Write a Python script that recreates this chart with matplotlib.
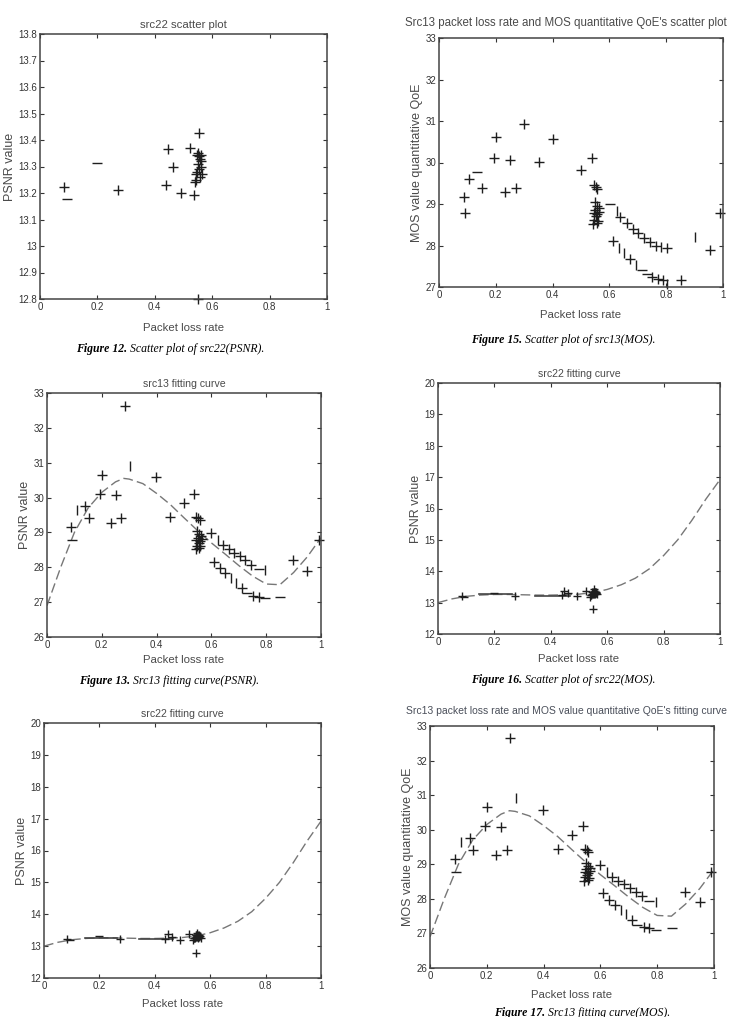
import matplotlib
matplotlib.use('Agg')
import matplotlib.pyplot as plt
import numpy as np

plt.rcParams['font.family'] = ['Liberation Sans', 'DejaVu Sans']

# ---- src22 (PSNR) samples ----
src22_plus_x = [0.084, 0.273, 0.447, 0.462, 0.438, 0.492, 0.524, 0.538, 0.553, 0.549,
                0.550, 0.555, 0.558, 0.562, 0.560, 0.553, 0.548, 0.545, 0.543, 0.556,
                0.565, 0.552, 0.547, 0.560, 0.541]
src22_plus_y = [13.224, 13.212, 13.365, 13.297, 13.229, 13.199, 13.370, 13.191, 13.425, 12.80,
                13.350, 13.340, 13.330, 13.320, 13.300, 13.290, 13.280, 13.270, 13.250, 13.260,
                13.270, 13.310, 13.345, 13.345, 13.240]
src22_dash_x = [0.093, 0.197]
src22_dash_y = [13.179, 13.314]

# src22 fitting curve
src22_fit_x = [0, 0.05, 0.10, 0.15, 0.20, 0.25, 0.30, 0.35, 0.40, 0.45, 0.50,
               0.55, 0.60, 0.65, 0.70, 0.75, 0.80, 0.85, 0.90, 0.95, 1.00]
src22_fit_y = [13.00, 13.12, 13.20, 13.24, 13.26, 13.26, 13.25, 13.24, 13.24, 13.25, 13.27,
               13.32, 13.42, 13.57, 13.78, 14.08, 14.50, 15.00, 15.62, 16.30, 16.92]
# solid stretches visible along the flat part of the src22 fit
src22_solid = [([0.147, 0.262], [13.26, 13.26]), ([0.344, 0.467], [13.22, 13.22])]

# ---- src13 cluster near 0.55 ----
src13_cluster_x = [0.545, 0.552, 0.558, 0.548, 0.556, 0.562, 0.550, 0.545, 0.558, 0.553,
                   0.547, 0.560, 0.555, 0.543, 0.565]
src13_cluster_y = [29.45, 29.40, 29.35, 29.05, 28.95, 28.90, 28.85, 28.78, 28.75, 28.70,
                   28.62, 28.60, 28.55, 28.52, 28.80]

# src13 MOS scatter
mos_plus_x = [0.087, 0.093, 0.107, 0.150, 0.201, 0.195, 0.231, 0.250, 0.271, 0.300,
              0.352, 0.400, 0.501, 0.539, 0.639, 0.663, 0.683, 0.702, 0.721, 0.742,
              0.763, 0.804, 0.954, 0.989, 0.613, 0.673, 0.751, 0.771, 0.790, 0.853]
mos_plus_y = [29.16, 28.78, 29.61, 29.38, 30.62, 30.10, 29.28, 30.07, 29.39, 30.92,
              30.01, 30.57, 29.83, 30.10, 28.69, 28.54, 28.40, 28.29, 28.19, 28.09,
              27.99, 27.93, 27.90, 28.78, 28.11, 27.68, 27.24, 27.20, 27.16, 27.17]
mos_dash_x = [0.134, 0.602, 0.716, 0.733]
mos_dash_y = [29.76, 29.00, 27.40, 27.32]
mos_bar_x = [0.625, 0.780, 0.901, 0.634, 0.651, 0.695, 0.804]
mos_bar_y = [28.82, 27.97, 28.20, 27.95, 27.82, 27.53, 27.08]

# src13 fitting samples
fit13_plus_x = [0.283, 0.201, 0.399, 0.195, 0.251, 0.140, 0.152, 0.233, 0.271, 0.450,
                0.089, 0.499, 0.538, 0.598, 0.642, 0.663, 0.684, 0.705, 0.724, 0.745,
                0.608, 0.630, 0.651, 0.712, 0.752, 0.772, 0.898, 0.949, 0.991]
fit13_plus_y = [32.64, 30.65, 30.58, 30.10, 30.07, 29.76, 29.40, 29.26, 29.41, 29.45,
                29.15, 29.84, 30.11, 28.99, 28.64, 28.53, 28.42, 28.31, 28.21, 28.07,
                28.16, 27.97, 27.83, 27.40, 27.18, 27.15, 28.21, 27.90, 28.78]
fit13_bar_x = [0.302, 0.109, 0.623, 0.797, 0.673, 0.690]
fit13_bar_y = [30.91, 29.65, 28.78, 27.92, 27.68, 27.55]
fit13_dash_x = [0.091, 0.772, 0.730, 0.797, 0.851]
fit13_dash_y = [28.78, 27.94, 27.25, 27.11, 27.16]

src13_fit_x = [0, 0.05, 0.10, 0.15, 0.20, 0.25, 0.28, 0.30, 0.35, 0.40, 0.45, 0.50,
               0.55, 0.60, 0.65, 0.70, 0.75, 0.80, 0.85, 0.90, 0.95, 1.00]
src13_fit_y = [26.90, 28.00, 29.00, 29.70, 30.15, 30.45, 30.55, 30.53, 30.40, 30.12, 29.80, 29.42,
               29.05, 28.70, 28.38, 28.05, 27.75, 27.52, 27.50, 27.85, 28.30, 28.85]

x_ticks = [0, 0.2, 0.4, 0.6, 0.8, 1]

W, H = 732, 1017
fig = plt.figure(figsize=(W / 100, H / 100), dpi=100)
TXT = '#4a4a4a'
MK = '#1e1e1e'


def make_ax(l, r, t, b, ylim, yticks, title, ylabel, tsize=7.6, xpad=4):
    ax = fig.add_axes([l / W, 1 - b / H, (r - l) / W, (b - t) / H])
    ax.set_xlim(0, 1)
    ax.set_ylim(*ylim)
    ax.set_xticks(x_ticks)
    ax.set_xticklabels(['%g' % v for v in x_ticks])
    ax.set_yticks(yticks)
    ax.set_yticklabels(['%g' % v for v in yticks])
    ax.tick_params(direction='in', length=3, width=0.8, top=True, right=True,
                   labelsize=7, colors='#333333', pad=2)
    for s in ax.spines.values():
        s.set_color('#444444')
        s.set_linewidth(1.1)
    if title:
        ax.set_title(title, fontsize=tsize, color=TXT, pad=4)
    ax.set_xlabel('Packet loss rate', fontsize=8.2, color=TXT, labelpad=xpad)
    ax.set_ylabel(ylabel, fontsize=9, color=TXT, labelpad=2)
    return ax


def pts(ax, x, y, m, ms=6.5):
    ax.plot(x, y, linestyle='none', marker=m, markersize=ms, markeredgewidth=1.0,
            color=MK, clip_on=False)


def caption(xc, yc, num, text):
    fig.text(xc / W, 1 - yc / H, num + ' ', fontsize=8.5, fontweight='bold', style='italic',
             family='Liberation Serif', ha='right', va='center')
    fig.text(xc / W, 1 - yc / H, text, fontsize=8.5, style='italic',
             family='Liberation Serif', ha='left', va='center')


# panel 1: src22 scatter
ax1 = make_ax(40, 327, 34, 299, (12.8, 13.8), list(np.round(np.arange(12.8, 13.81, 0.1), 1)),
              'src22 scatter plot', 'PSNR value', tsize=8.2, xpad=8)
pts(ax1, src22_plus_x, src22_plus_y, '+')
pts(ax1, src22_dash_x, src22_dash_y, '_')

# panel 2: src13 MOS scatter (long title runs to the right edge)
ax2 = make_ax(439, 723, 38, 287, (27, 33), [27, 28, 29, 30, 31, 32, 33],
              None, 'MOS value quantitative QoE', xpad=7)
fig.text(727 / W, 1 - 23 / H, "Src13 packet loss rate and MOS quantitative QoE's scatter plot",
         fontsize=8.3, color=TXT, ha='right', va='center')
pts(ax2, mos_plus_x, mos_plus_y, '+')
pts(ax2, src13_cluster_x, src13_cluster_y, '+')
pts(ax2, mos_dash_x, mos_dash_y, '_')
pts(ax2, mos_bar_x, mos_bar_y, '|')

# panel 3: src13 PSNR fitting curve
ax3 = make_ax(47, 321, 393, 637, (26, 33), [26, 27, 28, 29, 30, 31, 32, 33],
              'src13 fitting curve', 'PSNR value', xpad=4)

# panel 4 / 5: src22 fitting curve
ax4 = make_ax(438, 720, 383, 634, (12, 20), list(range(12, 21)),
              'src22 fitting curve', 'PSNR value', xpad=5)
ax5 = make_ax(44, 321, 723, 978, (12, 20), list(range(12, 21)),
              'src22 fitting curve', 'PSNR value', xpad=6)

# panel 6: src13 MOS fitting curve
ax6 = make_ax(430, 714, 726, 968, (26, 33), [26, 27, 28, 29, 30, 31, 32, 33],
              None, 'MOS value quantitative QoE', xpad=7)
fig.text(727 / W, 1 - 711 / H,
         "Src13 packet loss rate and MOS value quantitative QoE's fitting curve",
         fontsize=7.5, color='#4a4f5a', ha='right', va='center')

for ax in (ax3, ax6):
    ax.plot(src13_fit_x, src13_fit_y, color='#777777', lw=1.0, dashes=(7, 3))
    pts(ax, fit13_plus_x, fit13_plus_y, '+')
    pts(ax, src13_cluster_x, src13_cluster_y, '+')
    pts(ax, fit13_bar_x, fit13_bar_y, '|')
    pts(ax, fit13_dash_x, fit13_dash_y, '_')

for ax in (ax4, ax5):
    ax.plot(src22_fit_x, src22_fit_y, color='#777777', lw=1.0, dashes=(7, 3))
    for sx, sy in src22_solid:
        ax.plot(sx, sy, color='#444444', lw=1.2)
    pts(ax, src22_plus_x, src22_plus_y, '+', ms=5.5)
    pts(ax, src22_dash_x, src22_dash_y, '_', ms=5.5)

caption(130, 349, 'Figure 12.', 'Scatter plot of src22(PSNR).')
caption(525, 340, 'Figure 15.', 'Scatter plot of src13(MOS).')
caption(133, 681, 'Figure 13.', 'Src13 fitting curve(PSNR).')
caption(525, 680, 'Figure 16.', 'Scatter plot of src22(MOS).')
caption(548, 1013, 'Figure 17.', 'Src13 fitting curve(MOS).')

fig.savefig('out.png', dpi=100)
